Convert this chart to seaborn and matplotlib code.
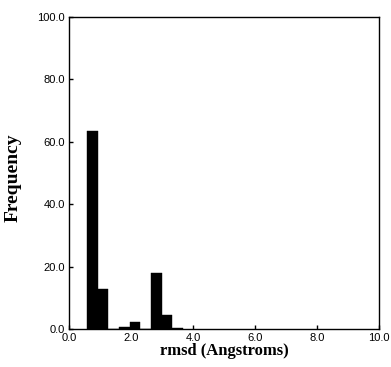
import matplotlib
matplotlib.use("Agg")
import matplotlib.pyplot as plt
import seaborn as sns
from matplotlib.ticker import FormatStrFormatter

# ── données ──
bin_edges = [0.58, 0.924, 1.268, 1.612, 1.956, 2.30, 2.644, 2.988, 3.332, 3.676]
bin_centers = [0.752, 1.096, 1.44, 1.784, 2.128, 2.472, 2.816, 3.16, 3.504]
frequences = [63.5, 13.0, 0.0, 0.6, 2.4, 0.0, 18.0, 4.4, 0.3]

x_ticks = [0, 2, 4, 6, 8, 10]
y_ticks = [0, 20, 40, 60, 80, 100]

sns.set_style("ticks")
plt.rcParams["font.family"] = ["Liberation Sans", "DejaVu Sans"]
plt.rcParams["text.color"] = "black"
plt.rcParams["axes.labelcolor"] = "black"

fig = plt.figure(figsize=(3.91, 3.67), dpi=100)
ax = fig.add_axes([0.177, 0.103, 0.792, 0.852])

sns.histplot(x=bin_centers, weights=frequences, bins=bin_edges,
             color="black", edgecolor="black", linewidth=0.3,
             alpha=1.0, ax=ax)

ax.set_xlim(0, 10)
ax.set_ylim(0, 100)
ax.set_xticks(x_ticks)
ax.set_yticks(y_ticks)
ax.xaxis.set_major_formatter(FormatStrFormatter("%.1f"))
ax.yaxis.set_major_formatter(FormatStrFormatter("%.1f"))
ax.tick_params(direction="in", length=3, width=1, labelsize=8, pad=3,
               colors="black")

for s in ax.spines.values():
    s.set_visible(True)
    s.set_linewidth(1.0)
    s.set_color("black")

ax.set_xlabel("rmsd (Angstroms)", family="Liberation Serif",
              fontweight="bold", fontsize=12, labelpad=0, color="black")
ax.set_ylabel("Frequency", family="Liberation Serif",
              fontweight="bold", fontsize=14, color="black")
ax.yaxis.set_label_coords(-0.152, 0.484)

fig.savefig("out.png", dpi=100)
plt.close(fig)
